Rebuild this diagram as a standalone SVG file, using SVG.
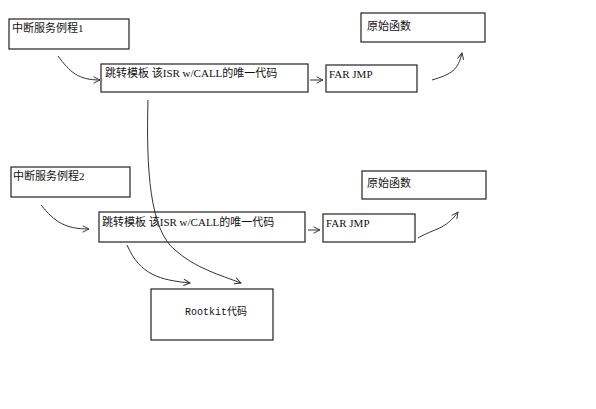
<svg xmlns="http://www.w3.org/2000/svg" width="596" height="409" viewBox="0 0 596 409">
<defs>
<style>
.box{fill:#fff;stroke:#222;stroke-width:1.2}
.t{font-family:"Liberation Serif","Noto Sans CJK SC",serif;font-size:11px;fill:#111}
.m{font-family:"Liberation Mono","Noto Sans CJK SC",monospace;font-size:10px;fill:#111}
.c{fill:none;stroke:#333;stroke-width:1}
</style>
<marker id="ah" viewBox="0 0 10 10" refX="9" refY="5" markerWidth="8" markerHeight="8" orient="auto" markerUnits="userSpaceOnUse">
<path d="M1,1 L9,5 L1,9" fill="none" stroke="#333" stroke-width="1.2"/>
</marker>
</defs>
<rect width="596" height="409" fill="#fff"/>
<g id="isr1"><rect class="box" x="9" y="19" width="120" height="30"/><text class="t" x="12" y="32">中断服务例程1</text></g>
<g id="tpl1"><rect class="box" x="101" y="64" width="207" height="28"/><text class="t" x="105" y="77">跳转模板 该ISR w/CALL的唯一代码</text></g>
<g id="far1"><rect class="box" x="326" y="65" width="91" height="27"/><text class="t" x="329" y="78" font-size="10">FAR JMP</text></g>
<g id="orig1"><rect class="box" x="361" y="13" width="124" height="29"/><text class="t" x="367" y="30">原始函数</text></g>
<g id="isr2"><rect class="box" x="11" y="167" width="119" height="30"/><text class="t" x="13" y="180">中断服务例程2</text></g>
<g id="tpl2"><rect class="box" x="99" y="212" width="206" height="30"/><text class="t" x="102" y="226">跳转模板 该ISR w/CALL的唯一代码</text></g>
<g id="far2"><rect class="box" x="323" y="214" width="92" height="28"/><text class="t" x="326" y="227" font-size="10">FAR JMP</text></g>
<g id="orig2"><rect class="box" x="362" y="171" width="124" height="28"/><text class="t" x="367" y="187">原始函数</text></g>
<g id="rootkit"><rect class="box" x="151" y="289" width="122" height="51"/><text class="m" x="185" y="315">Rootkit代码</text></g>
<g id="connectors">
<path class="c" marker-end="url(#ah)" d="M58,56 C70,72 78,80 100,80"/>
<path class="c" marker-end="url(#ah)" d="M310,80 L323,80"/>
<path class="c" marker-end="url(#ah)" d="M432,80 C452,74 458,70 462,53"/>
<path class="c" marker-end="url(#ah)" d="M41,205 C55,222 65,229 89,229"/>
<path class="c" marker-end="url(#ah)" d="M308,230 L320,230"/>
<path class="c" marker-end="url(#ah)" d="M418,238 C435,228 445,230 458,212"/>
<path class="c" marker-end="url(#ah)" d="M127,245 C140,275 160,280 190,283"/>
<path class="c" marker-end="url(#ah)" d="M148,100 C146,170 150,230 175,250 C195,268 220,275 241,283"/>
</g>
</svg>
